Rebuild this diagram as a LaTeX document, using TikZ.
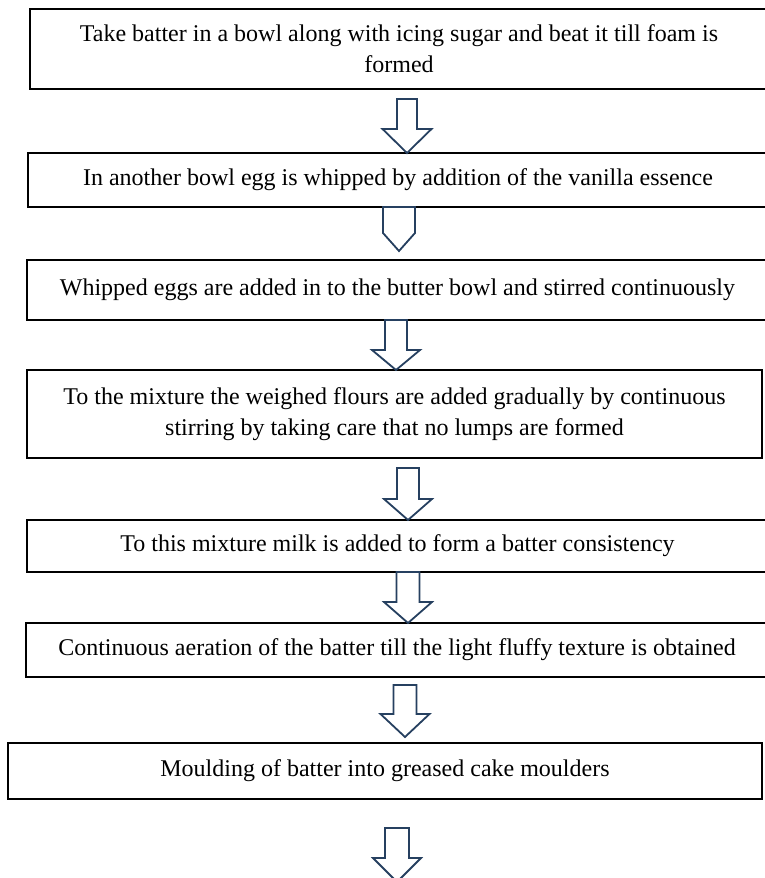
\documentclass[tikz,border=0pt]{standalone}
\usepackage{fontspec}
\setmainfont{Liberation Serif}
\definecolor{arrowblue}{RGB}{38,64,96}
\tikzset{
  stepbox/.style={draw=black, line width=2.2pt, fill=white, inner sep=0pt,
    align=center, font=\fontsize{24}{31}\selectfont},
  blockarrow/.style={draw=arrowblue, line width=1.8pt, fill=white, line join=miter}
}
% \barrow{cx}{top}{wingY}{tip}{shaftHalf}{headHalf}
\newcommand{\barrow}[6]{%
  \draw[blockarrow] ({#1-#5},#2) -- ({#1-#5},#3) -- ({#1-#6},#3) -- (#1,#4)
    -- ({#1+#6},#3) -- ({#1+#5},#3) -- ({#1+#5},#2) -- cycle;}
\begin{document}
\begin{tikzpicture}[x=1pt,y=-1pt]
\useasboundingbox (0,0) rectangle (765,878);
\clip (0,0) rectangle (765,878);
\fill[white] (0,0) rectangle (765,878);

\node[stepbox, minimum width=738pt, minimum height=80pt] (b1) at (399,49)
  {Take batter in a bowl along with icing sugar and beat it till foam is\\formed};
\node[stepbox, minimum width=740pt, minimum height=54pt] (b2) at (398,180)
  {In another bowl egg is whipped by addition of the vanilla essence};
\node[stepbox, minimum width=741pt, minimum height=60pt] (b3) at (397.5,290)
  {Whipped eggs are added in to the butter bowl and stirred continuously};
\node[stepbox, minimum width=735pt, minimum height=88pt] (b4) at (394.5,414)
  {To the mixture the weighed flours are added gradually by continuous\\stirring by taking care that no lumps are formed};
\node[stepbox, minimum width=741pt, minimum height=52pt] (b5) at (397.5,546)
  {To this mixture milk is added to form a batter consistency};
\node[stepbox, minimum width=742pt, minimum height=54pt] (b6) at (397,650)
  {Continuous aeration of the batter till the light fluffy texture is obtained};
\node[stepbox, minimum width=754pt, minimum height=56pt] (b7) at (385,771)
  {Moulding of batter into greased cake moulders};

% block arrows between the steps
\barrow{407}{99}{129}{153}{10}{24.5}
\barrow{399}{207}{233}{251}{16}{16}
\barrow{396}{320}{350}{370}{11}{24}
\barrow{408}{468}{499}{520}{11}{24}
\barrow{408}{572}{602}{623}{11.5}{24}
\barrow{405}{685}{714}{737}{11.5}{24.5}
\barrow{397}{828}{858}{882}{12}{24}
\end{tikzpicture}
\end{document}
